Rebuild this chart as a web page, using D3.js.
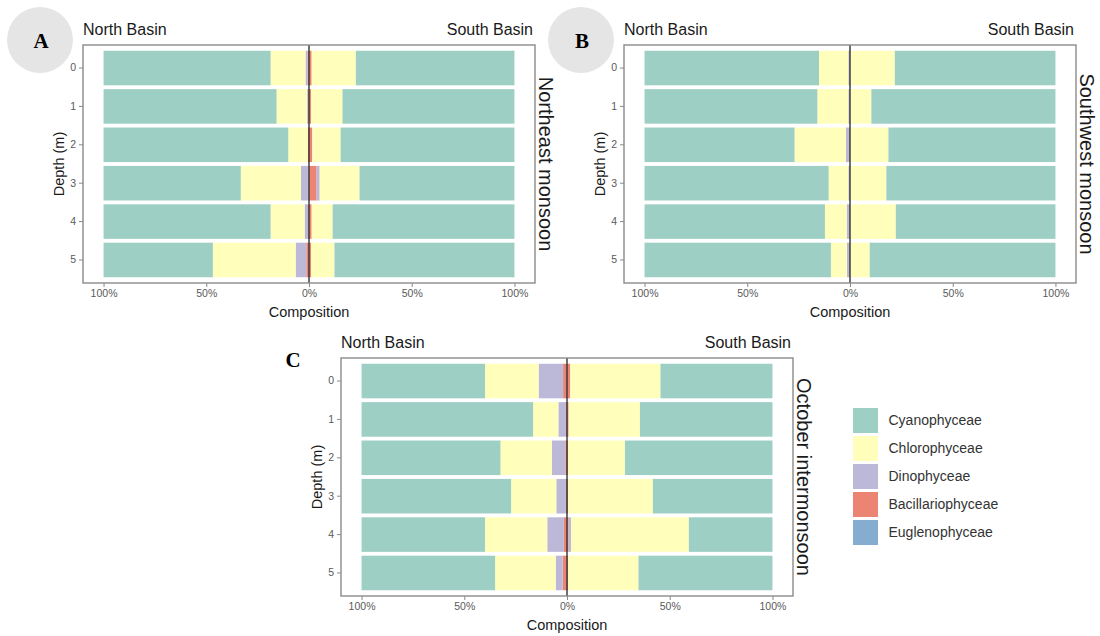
<!DOCTYPE html>
<meta charset="utf-8">
<style>
body { margin: 0; background: #fff; }
* { font-family: "Liberation Sans", Arial, sans-serif; }
</style>
<body>
<script src="https://cdn.jsdelivr.net/npm/d3@7"></script>
<script>

var depths = ["0", "1", "2", "3", "4", "5"];
var classes = ["Cyanophyceae", "Chlorophyceae", "Dinophyceae", "Bacillariophyceae", "Euglenophyceae"];
var classColors = ["#9dcfc5", "#ffffbb", "#bcb8d8", "#eb8472", "#85adcf"];
var xTicks = [-100, -50, 0, 50, 100];

// % composition per depth: [Cyano, Chloro, Dino, Bacillario, Eugleno]
var northeastNorth = [
  [81.3, 17.0, 1.0, 0.7, 0],
  [84.2, 14.9, 0.5, 0.4, 0],
  [89.9, 9.5, 0, 0.6, 0],
  [66.8, 29.3, 3.9, 0, 0],
  [81.3, 16.6, 1.6, 0.5, 0],
  [53.2, 40.3, 5.2, 1.3, 0]
];
var northeastSouth = [
  [77.2, 21.5, 0, 1.3, 0],
  [83.7, 15.3, 0, 1.0, 0],
  [84.6, 13.8, 0, 1.6, 0],
  [75.4, 19.4, 1.5, 3.7, 0],
  [88.5, 10.2, 0, 1.3, 0],
  [87.6, 11.4, 0, 1.0, 0]
];
var southwestNorth = [
  [84.9, 14.3, 0.8, 0, 0],
  [84.1, 15.1, 0.8, 0, 0],
  [73.0, 25.0, 2.0, 0, 0],
  [89.6, 9.6, 0.8, 0, 0],
  [87.8, 10.6, 1.6, 0, 0],
  [90.7, 7.8, 1.5, 0, 0]
];
var southwestSouth = [
  [78.2, 21.8, 0, 0, 0],
  [89.6, 10.4, 0, 0, 0],
  [81.3, 18.7, 0, 0, 0],
  [82.3, 17.7, 0, 0, 0],
  [77.7, 22.3, 0, 0, 0],
  [90.4, 9.6, 0, 0, 0]
];
var octoberNorth = [
  [60.1, 26.1, 11.9, 1.9, 0],
  [83.5, 12.3, 3.7, 0.5, 0],
  [67.6, 25.1, 6.5, 0.8, 0],
  [72.8, 22.0, 4.7, 0.5, 0],
  [60.1, 30.3, 8.1, 1.5, 0],
  [65.0, 29.5, 3.4, 2.1, 0]
];
var octoberSouth = [
  [54.5, 43.9, 0, 1.6, 0],
  [64.5, 34.7, 0, 0.8, 0],
  [71.8, 27.7, 0, 0.5, 0],
  [58.2, 41.3, 0, 0.5, 0],
  [40.7, 57.3, 1.2, 0.8, 0],
  [65.2, 34.2, 0, 0.6, 0]
];

var W = 1100, H = 636;
var pw = 452, ph = 238;

var svg = d3.select("body").append("svg")
    .attr("width", W)
    .attr("height", H);

var color = d3.scaleOrdinal().domain(classes).range(classColors);

// stack from the centre outward: last class sits next to 0
function segments(rows, sign) {
  var out = [];
  rows.forEach(function(vals, i) {
    var acc = 0;
    for (var k = classes.length - 1; k >= 0; k--) {
      var v = vals[k];
      if (v > 0) {
        out.push({depth: depths[i], cls: classes[k], x0: sign * acc, x1: sign * (acc + v)});
      }
      acc += v;
    }
  });
  return out;
}

function panel(left, top, north, south, strip) {
  var g = svg.append("g").attr("transform", "translate(" + left + "," + top + ")");

  var x = d3.scaleLinear().domain([-110, 110]).range([0, pw]);
  var y = d3.scaleBand().domain(depths).range([0, ph]).paddingInner(0.1).paddingOuter(0.15);

  var segs = segments(north, -1).concat(segments(south, 1));
  g.selectAll("rect.seg")
      .data(segs)
    .enter().append("rect")
      .attr("class", "seg")
      .attr("x", function(d) { return x(Math.min(d.x0, d.x1)); })
      .attr("width", function(d) { return Math.abs(x(d.x1) - x(d.x0)); })
      .attr("y", function(d) { return y(d.depth); })
      .attr("height", y.bandwidth())
      .attr("fill", function(d) { return color(d.cls); });

  // zero line
  g.append("line")
      .attr("x1", x(0)).attr("x2", x(0))
      .attr("y1", 0).attr("y2", ph)
      .attr("stroke", "#333")
      .attr("stroke-width", 1.4);

  // panel border
  g.append("rect")
      .attr("width", pw).attr("height", ph)
      .attr("fill", "none")
      .attr("stroke", "#8a8a8a")
      .attr("stroke-width", 1.4);

  var xa = g.append("g")
      .attr("transform", "translate(0," + ph + ")")
      .call(d3.axisBottom(x).tickValues(xTicks).tickSize(4).tickPadding(3)
        .tickFormat(function(d) { return Math.abs(d) + "%"; }));
  var ya = g.append("g")
      .call(d3.axisLeft(y).tickSize(4).tickPadding(3));
  [xa, ya].forEach(function(a) {
    a.select(".domain").remove();
    a.selectAll(".tick line").attr("stroke", "#8a8a8a");
    a.selectAll(".tick text")
        .attr("fill", "#5a5a5a")
        .style("font-size", "10.5px")
        .style("font-family", "'Liberation Sans', Arial, sans-serif");
  });

  g.append("text")
      .attr("x", pw / 2).attr("y", ph + 33.5)
      .attr("text-anchor", "middle")
      .attr("fill", "#1a1a1a")
      .style("font-size", "14.5px")
      .text("Composition");

  g.append("text")
      .attr("transform", "translate(-24," + (ph / 2) + ")rotate(-90)")
      .attr("text-anchor", "middle")
      .attr("dy", "0.35em")
      .attr("fill", "#1a1a1a")
      .style("font-size", "14.5px")
      .text("Depth (m)");

  g.append("text")
      .attr("x", 0).attr("y", -10.5)
      .attr("fill", "#1a1a1a")
      .style("font-size", "16px")
      .text("North Basin");
  g.append("text")
      .attr("x", pw - 2).attr("y", -10.5)
      .attr("text-anchor", "end")
      .attr("fill", "#1a1a1a")
      .style("font-size", "16px")
      .text("South Basin");

  g.append("text")
      .attr("transform", "translate(" + (pw + 11) + "," + (ph / 2) + ")rotate(90)")
      .attr("text-anchor", "middle")
      .attr("dy", "0.35em")
      .attr("fill", "#1a1a1a")
      .style("font-size", "20px")
      .text(strip);
}

panel(83, 45, northeastNorth, northeastSouth, "Northeast monsoon");
panel(624, 45, southwestNorth, southwestSouth, "Southwest monsoon");
panel(341, 358, octoberNorth, octoberSouth, "October intermonsoon");

// panel letters
var letters = [
  {t: "A", cx: 40, cy: 40, circle: true},
  {t: "B", cx: 581, cy: 40, circle: true},
  {t: "C", cx: 292, cy: 359, circle: false}
];
letters.forEach(function(l) {
  if (l.circle) {
    svg.append("circle")
        .attr("cx", l.cx).attr("cy", l.cy).attr("r", 33)
        .attr("fill", "#e5e5e5");
  }
  svg.append("text")
      .attr("x", l.cx + 1).attr("y", l.cy + 7.5)
      .attr("text-anchor", "middle")
      .style("font-family", "'Liberation Serif', 'Times New Roman', serif")
      .style("font-weight", "bold")
      .style("font-size", "21px")
      .attr("fill", "#000")
      .text(l.t);
});

// legend
var legend = svg.append("g").attr("transform", "translate(852.5,407.5)");
var key = legend.selectAll("g")
    .data(classes)
  .enter().append("g")
    .attr("transform", function(d, i) { return "translate(0," + (i * 28) + ")"; });
key.append("rect")
    .attr("width", 26).attr("height", 26)
    .attr("fill", function(d) { return color(d); })
    .attr("stroke", "#fff")
    .attr("stroke-width", 1);
key.append("text")
    .attr("x", 36).attr("y", 13)
    .attr("dy", "0.35em")
    .attr("fill", "#333")
    .style("font-size", "14px")
    .text(function(d) { return d; });

</script>
</body>
</html>
